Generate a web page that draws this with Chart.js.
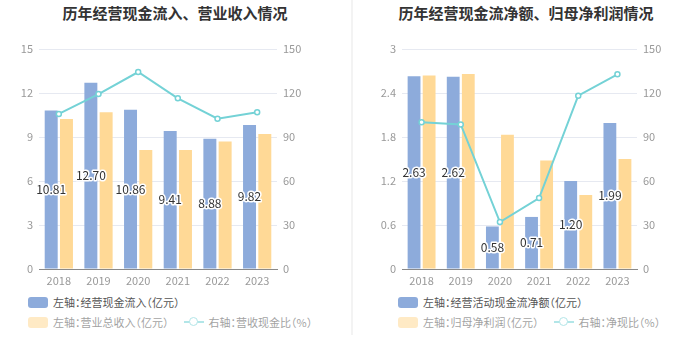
<!DOCTYPE html>
<html>
<head>
<meta charset="utf-8">
<script src="https://cdn.jsdelivr.net/npm/chart.js@4.4.1/dist/chart.umd.min.js"></script>
<style>
  body { margin: 0; background: #fff; font-family: "Noto Sans CJK SC", "Noto Sans", sans-serif; }
  .wrap { position: relative; width: 700px; height: 360px; }
  .panel { position: absolute; top: 0; height: 360px; }
  .sep { position: absolute; left: 351px; top: 0; width: 2px; height: 335px; background: #f3f3f3; }
  .title { position: absolute; top: 2px; left: 0; width: 100%; text-align: center; font-size: 15px; font-weight: bold; color: #333; }
  .legend { position: absolute; font-size: 11px; color: #555; white-space: nowrap; font-feature-settings: "halt"; }
  .legend .row { height: 20px; display: flex; align-items: center; }
  .legend .box { width: 20px; height: 11px; border-radius: 3px; margin-right: 5px; }
  .legend .dim { opacity: 0.55; }
  .legend .ln { width: 20px; height: 10px; position: relative; margin-right: 5px; margin-left: 15px; }
  .legend .ln:before { content: ""; position: absolute; left: 0; right: 0; top: 4px; height: 2px; background: #74d2d6; }
  .legend .ln:after { content: ""; position: absolute; left: 5px; top: 0; width: 7px; height: 7px; border: 1.5px solid #74d2d6; border-radius: 50%; background: #fff; }
</style>
</head>
<body>
<div class="wrap">
  <div class="panel" style="left:0;width:350px">
    <div class="title">历年经营现金流入、营业收入情况</div>
    <canvas id="c1" width="350" height="290" style="position:absolute;left:0;top:0"></canvas>
    <div class="legend" style="left:28px;top:292px">
      <div class="row"><span class="box" style="background:#8dabdb"></span>左轴：经营现金流入（亿元）</div>
      <div class="row dim"><span class="box" style="background:#ffd996"></span>左轴：营业总收入（亿元）<span class="ln"></span>右轴：营收现金比（%）</div>
    </div>
  </div>
  <div class="sep"></div>
  <div class="panel" style="left:352px;width:348px">
    <div class="title">历年经营现金流净额、归母净利润情况</div>
    <canvas id="c2" width="348" height="290" style="position:absolute;left:0;top:0"></canvas>
    <div class="legend" style="left:46px;top:292px">
      <div class="row"><span class="box" style="background:#8dabdb"></span>左轴：经营活动现金流净额（亿元）</div>
      <div class="row dim"><span class="box" style="background:#ffd996"></span>左轴：归母净利润（亿元）<span class="ln"></span>右轴：净现比（%）</div>
    </div>
  </div>
</div>
<script>
const years = ['2018', '2019', '2020', '2021', '2022', '2023'];

// 左图
const cashInflow = [10.81, 12.70, 10.86, 9.41, 8.88, 9.82];
const revenue = [10.23, 10.68, 8.11, 8.11, 8.70, 9.20];
const cashRevenueRatio = [105.7, 119.3, 134.3, 116.4, 102.5, 106.8];

// 右图
const netCashFlow = [2.63, 2.62, 0.58, 0.71, 1.20, 1.99];
const netProfit = [2.64, 2.66, 1.83, 1.48, 1.01, 1.50];
const netCashRatio = [100.0, 98.6, 32.0, 48.4, 118.2, 132.7];

const BLUE = '#8dabdb';
const ORANGE = '#ffd996';
const TEAL = '#74d2d6';
const FONT = '"Noto Sans CJK SC", "Noto Sans", sans-serif';

// 蓝色柱中间的数值标签
const barLabels = {
  id: 'barLabels',
  afterDatasetsDraw(chart) {
    const ctx = chart.ctx;
    const meta = chart.getDatasetMeta(0);
    ctx.save();
    ctx.font = '12px ' + FONT;
    ctx.textAlign = 'center';
    ctx.textBaseline = 'middle';
    ctx.lineJoin = 'round';
    meta.data.forEach((bar, i) => {
      const v = chart.data.datasets[0].data[i];
      const y = (bar.y + bar.base) / 2;
      ctx.lineWidth = 3;
      ctx.strokeStyle = '#fff';
      ctx.strokeText(v.toFixed(2), bar.x, y);
      ctx.fillStyle = '#333';
      ctx.fillText(v.toFixed(2), bar.x, y);
    });
    ctx.restore();
  }
};

function makeChart(id, bars1, bars2, line, leftMax, leftStep, leftW, rightW) {
  new Chart(document.getElementById(id).getContext('2d'), {
    type: 'bar',
    data: {
      labels: years,
      datasets: [
        { type: 'bar', data: bars1, backgroundColor: BLUE, yAxisID: 'y', order: 2,
          categoryPercentage: 0.77, barPercentage: 0.85 },
        { type: 'bar', data: bars2, backgroundColor: ORANGE, yAxisID: 'y', order: 3,
          categoryPercentage: 0.77, barPercentage: 0.85 },
        { type: 'line', data: line, yAxisID: 'y1', order: 1, borderColor: TEAL, borderWidth: 2,
          pointRadius: 2.5, pointBorderWidth: 1.5, pointBackgroundColor: '#fff', pointBorderColor: TEAL,
          tension: 0 }
      ]
    },
    options: {
      responsive: false,
      animation: false,
      layout: { padding: { top: 49, left: 0, right: 0, bottom: 0 } },
      plugins: { legend: { display: false }, tooltip: { enabled: false } },
      scales: {
        x: {
          grid: { display: false, drawTicks: false },
          border: { display: true, color: '#8a8a8a' },
          ticks: { color: '#999', font: { size: 11, family: FONT }, padding: 5 },
          afterFit(s) { s.height = 21; }
        },
        y: {
          position: 'left', min: 0, max: leftMax,
          grid: { color: '#e6e9f1', drawTicks: false },
          border: { display: false },
          ticks: { stepSize: leftStep, color: '#999', font: { size: 11, family: FONT }, padding: 6,
            callback: v => String(+v.toFixed(1)) },
          afterFit(s) { s.width = leftW; }
        },
        y1: {
          position: 'right', min: 0, max: 150,
          grid: { drawOnChartArea: false, drawTicks: false },
          border: { display: false },
          ticks: { stepSize: 30, color: '#999', font: { size: 11, family: FONT }, padding: 6 },
          afterFit(s) { s.width = rightW; }
        }
      }
    },
    plugins: [barLabels]
  });
}

makeChart('c1', cashInflow, revenue, cashRevenueRatio, 15, 3, 39, 73);
makeChart('c2', netCashFlow, netProfit, netCashRatio, 3, 0.6, 50, 63);
</script>
</body>
</html>
